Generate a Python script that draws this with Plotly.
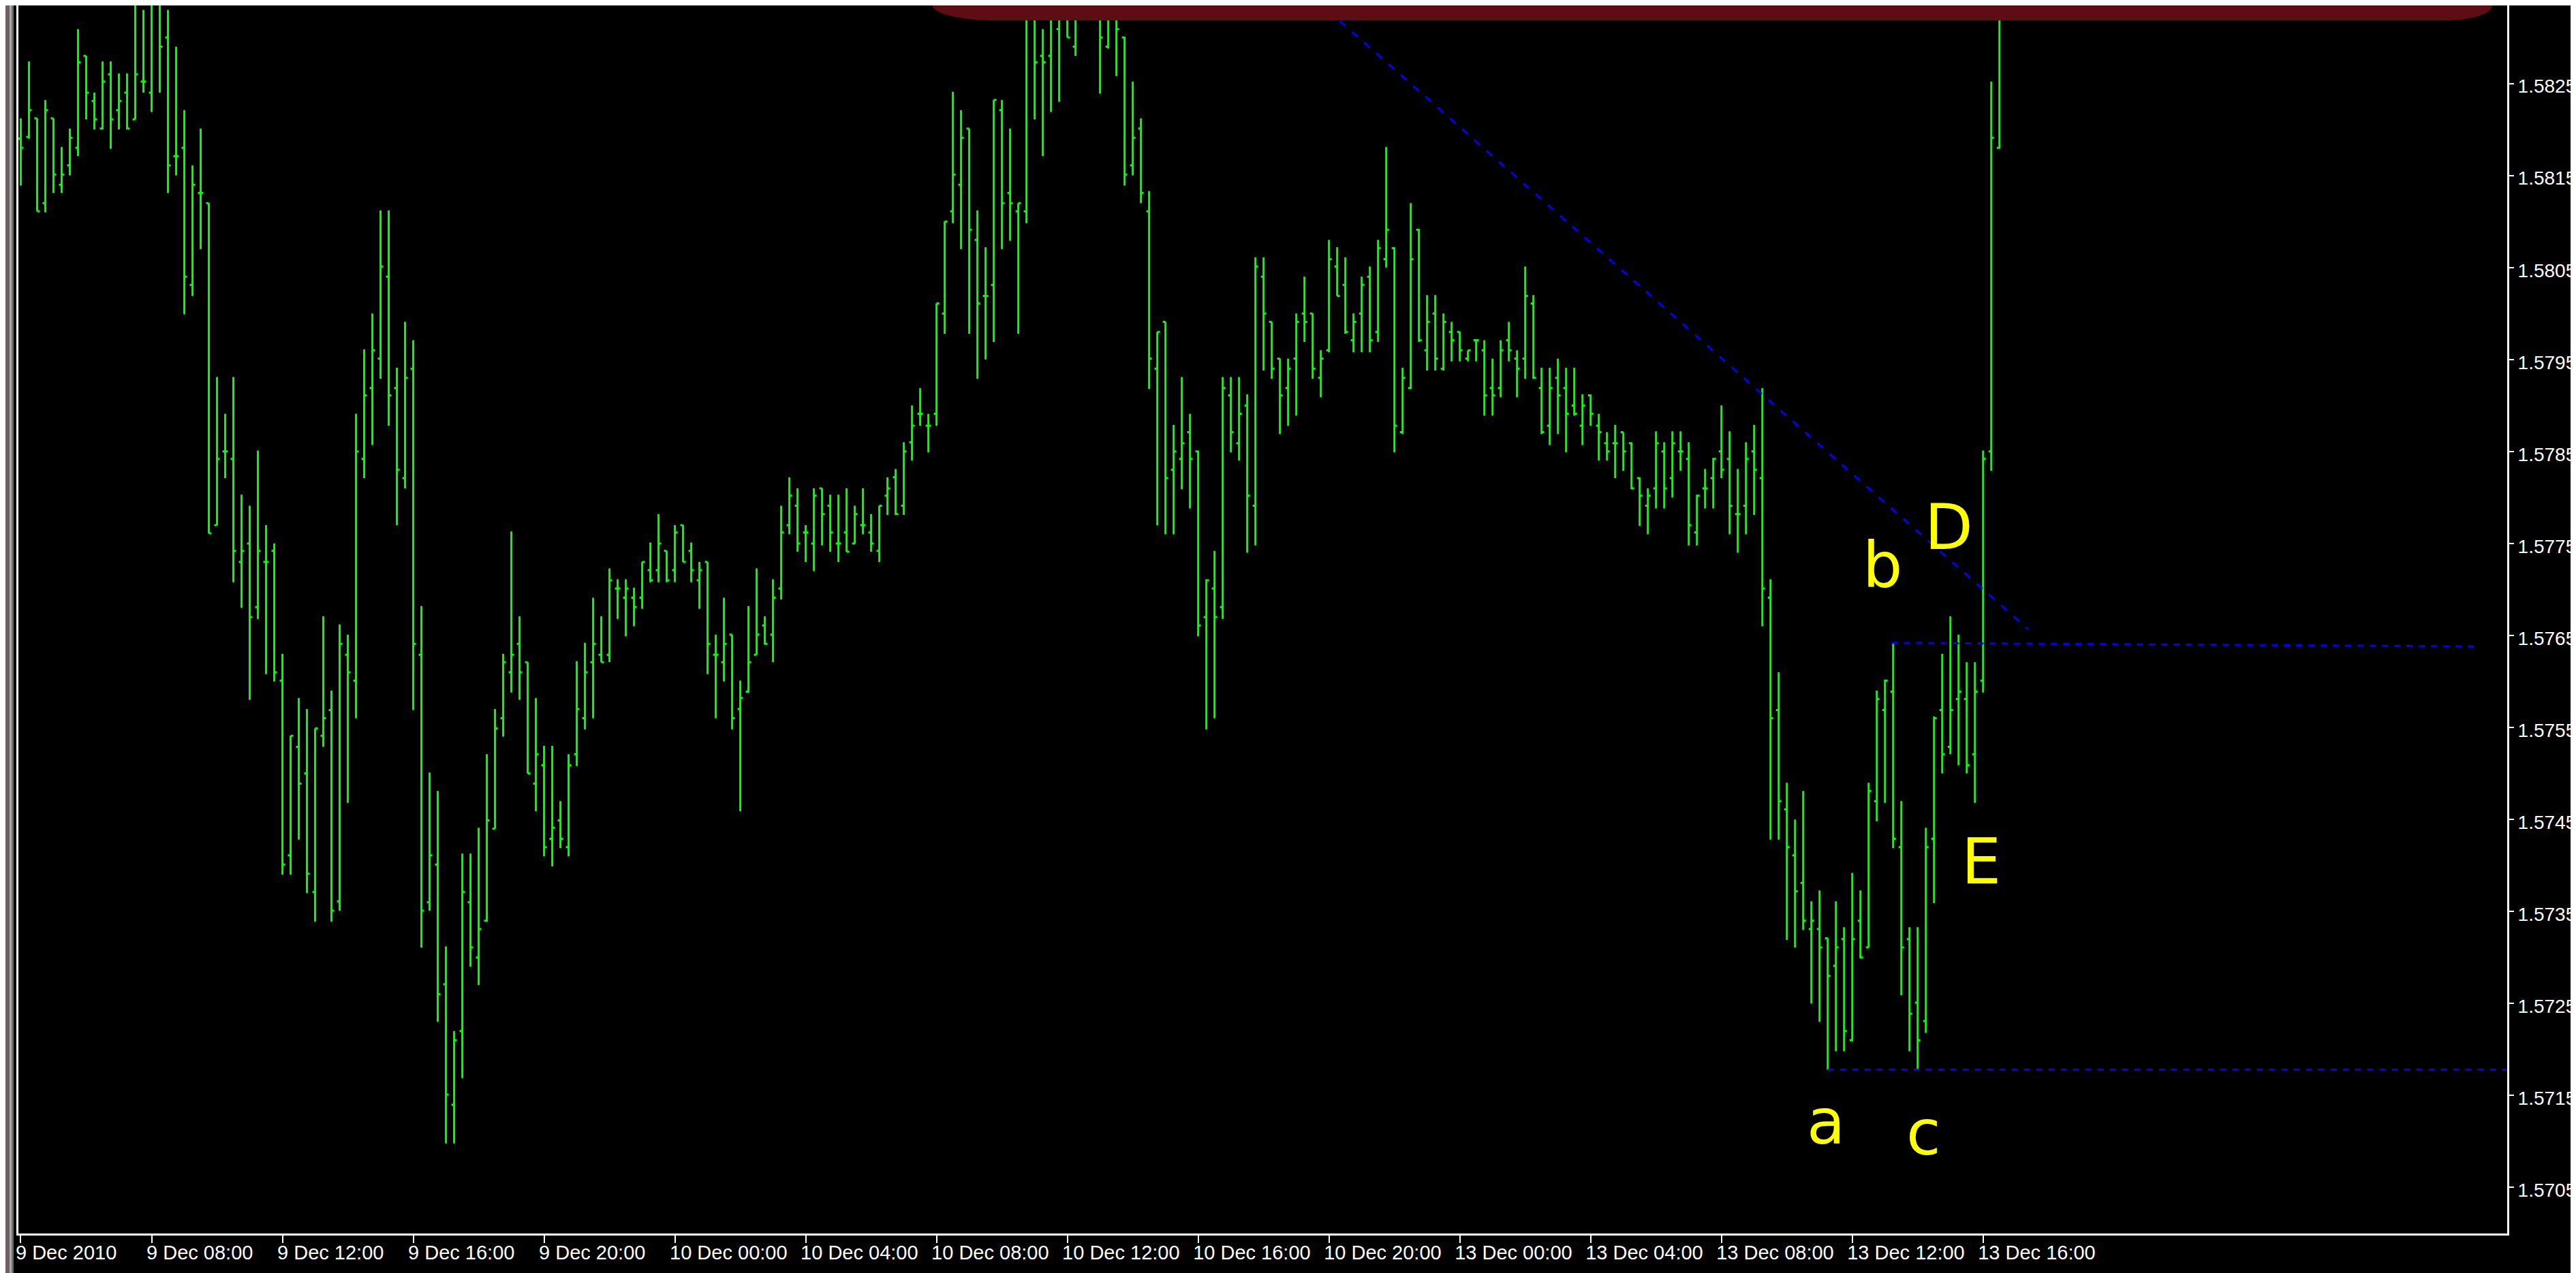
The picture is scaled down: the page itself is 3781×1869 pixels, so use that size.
import plotly.graph_objects as go

# ---------------- data (GBP/USD M15) ----------------
open_ = [
    1.58190, 1.58192, 1.58212, 1.58120, 1.58212, 1.58140, 1.58161, 1.58180, 1.58280, 1.58231,
    1.58201, 1.58260, 1.58221, 1.58240, 1.58211, 1.58252, 1.58240, 1.58340, 1.58300, 1.58171,
    1.58180, 1.58031, 1.58131, 1.58120, 1.57770, 1.57850, 1.57842, 1.57730, 1.57750, 1.57681,
    1.57730, 1.57742, 1.57601, 1.57411, 1.57529, 1.57500, 1.57371, 1.57541, 1.57569, 1.57361,
    1.57629, 1.57601, 1.57842, 1.57919, 1.57951, 1.58040, 1.57919, 1.57821, 1.57940, 1.57629,
    1.57360, 1.57401, 1.57271, 1.57140, 1.57220, 1.57360, 1.57300, 1.57340, 1.57440, 1.57560,
    1.57610, 1.57641, 1.57621, 1.57489, 1.57509, 1.57429, 1.57449, 1.57420, 1.57521, 1.57560,
    1.57621, 1.57629, 1.57629, 1.57701, 1.57691, 1.57691, 1.57691, 1.57721, 1.57721, 1.57742,
    1.57721, 1.57770, 1.57742, 1.57710, 1.57730, 1.57629, 1.57621, 1.57651, 1.57570, 1.57589,
    1.57629, 1.57661, 1.57651, 1.57701, 1.57770, 1.57791, 1.57762, 1.57750, 1.57810, 1.57791,
    1.57750, 1.57762, 1.57750, 1.57770, 1.57762, 1.57742, 1.57802, 1.57822, 1.57791, 1.57860,
    1.57891, 1.57878, 1.57891, 1.58000, 1.58111, 1.58140, 1.58201, 1.58080, 1.58019, 1.58031,
    1.58221, 1.58131, 1.58111, 1.58111, 1.58340, 1.58280, 1.58280, 1.58309, 1.58345, 1.58290,
    1.58350, 1.58370, 1.58350, 1.58290, 1.58345, 1.58300, 1.58161, 1.58201, 1.58111, 1.57940,
    1.57991, 1.57830, 1.57842, 1.57871, 1.57850, 1.57670, 1.57701, 1.57681, 1.57911, 1.57859,
    1.57900, 1.57791, 1.58040, 1.57991, 1.57951, 1.57919, 1.57951, 1.58000, 1.58000, 1.57930,
    1.57960, 1.58051, 1.58031, 1.57971, 1.58000, 1.58040, 1.57980, 1.58059, 1.58071, 1.57871,
    1.57919, 1.58091, 1.57960, 1.58000, 1.57940, 1.57980, 1.57980, 1.57951, 1.57971, 1.57960,
    1.57919, 1.57919, 1.57971, 1.57951, 1.57951, 1.58011, 1.57919, 1.57878, 1.57930, 1.57919,
    1.57900, 1.57878, 1.57911, 1.57878, 1.57859, 1.57859, 1.57871, 1.57859, 1.57821, 1.57791,
    1.57810, 1.57850, 1.57821, 1.57850, 1.57842, 1.57762, 1.57810, 1.57821, 1.57850, 1.57842,
    1.57782, 1.57791, 1.57850, 1.57821, 1.57691, 1.57569, 1.57461, 1.57411, 1.57381, 1.57331,
    1.57331, 1.57321, 1.57291, 1.57320, 1.57210, 1.57340, 1.57311, 1.57470, 1.57569, 1.57589,
    1.57420, 1.57320, 1.57251, 1.57231, 1.57429, 1.57569, 1.57529, 1.57581, 1.57581, 1.57521,
    1.57601, 1.57850, 1.58180,
]
high = [
    1.58212, 1.58274, 1.58212, 1.58232, 1.58212, 1.58181, 1.58201, 1.58309, 1.58280, 1.58240,
    1.58274, 1.58274, 1.58261, 1.58261, 1.58342, 1.58330, 1.58345, 1.58345, 1.58330, 1.58290,
    1.58221, 1.58161, 1.58201, 1.58120, 1.57931, 1.57891, 1.57931, 1.57803, 1.57791, 1.57851,
    1.57770, 1.57750, 1.57630, 1.57541, 1.57582, 1.57570, 1.57549, 1.57671, 1.57590, 1.57662,
    1.57651, 1.57891, 1.57961, 1.58000, 1.58112, 1.58112, 1.57941, 1.57991, 1.57971, 1.57682,
    1.57501, 1.57481, 1.57312, 1.57220, 1.57413, 1.57413, 1.57441, 1.57521, 1.57570, 1.57630,
    1.57763, 1.57671, 1.57621, 1.57582, 1.57530, 1.57530, 1.57470, 1.57521, 1.57622, 1.57642,
    1.57691, 1.57671, 1.57723, 1.57711, 1.57711, 1.57702, 1.57730, 1.57751, 1.57782, 1.57742,
    1.57770, 1.57770, 1.57751, 1.57730, 1.57730, 1.57651, 1.57691, 1.57651, 1.57601, 1.57682,
    1.57723, 1.57671, 1.57711, 1.57791, 1.57822, 1.57810, 1.57770, 1.57810, 1.57810, 1.57803,
    1.57803, 1.57810, 1.57791, 1.57810, 1.57782, 1.57791, 1.57822, 1.57831, 1.57860, 1.57900,
    1.57919, 1.57891, 1.58011, 1.58100, 1.58241, 1.58221, 1.58201, 1.58112, 1.58072, 1.58232,
    1.58232, 1.58201, 1.58120, 1.58360, 1.58365, 1.58309, 1.58355, 1.58360, 1.58360, 1.58370,
    1.58390, 1.58400, 1.58365, 1.58370, 1.58360, 1.58301, 1.58252, 1.58212, 1.58133, 1.57980,
    1.57991, 1.57879, 1.57931, 1.57891, 1.57851, 1.57711, 1.57742, 1.57931, 1.57931, 1.57931,
    1.57912, 1.58061, 1.58061, 1.57991, 1.57951, 1.57951, 1.58000, 1.58040, 1.58000, 1.57960,
    1.58080, 1.58072, 1.58061, 1.58000, 1.58040, 1.58051, 1.58080, 1.58181, 1.58072, 1.57941,
    1.58120, 1.58092, 1.58020, 1.58020, 1.58000, 1.57991, 1.57980, 1.57960, 1.57971, 1.57971,
    1.57951, 1.57971, 1.57991, 1.57960, 1.58051, 1.58020, 1.57941, 1.57941, 1.57951, 1.57941,
    1.57941, 1.57912, 1.57912, 1.57891, 1.57871, 1.57879, 1.57871, 1.57860, 1.57822, 1.57810,
    1.57872, 1.57860, 1.57872, 1.57872, 1.57860, 1.57803, 1.57831, 1.57843, 1.57900, 1.57872,
    1.57831, 1.57860, 1.57879, 1.57919, 1.57711, 1.57610, 1.57490, 1.57450, 1.57481, 1.57361,
    1.57373, 1.57321, 1.57361, 1.57333, 1.57392, 1.57373, 1.57490, 1.57590, 1.57602, 1.57642,
    1.57470, 1.57333, 1.57333, 1.57441, 1.57562, 1.57630, 1.57671, 1.57651, 1.57621, 1.57621,
    1.57851, 1.58252, 1.58400,
]
low = [
    1.58139, 1.58190, 1.58111, 1.58110, 1.58131, 1.58131, 1.58150, 1.58171, 1.58211, 1.58200,
    1.58200, 1.58179, 1.58200, 1.58200, 1.58211, 1.58240, 1.58219, 1.58240, 1.58131, 1.58150,
    1.57999, 1.58019, 1.58070, 1.57761, 1.57770, 1.57821, 1.57708, 1.57680, 1.57580, 1.57668,
    1.57608, 1.57600, 1.57390, 1.57390, 1.57428, 1.57370, 1.57339, 1.57529, 1.57339, 1.57351,
    1.57468, 1.57560, 1.57821, 1.57857, 1.57929, 1.57878, 1.57770, 1.57810, 1.57569, 1.57311,
    1.57351, 1.57230, 1.57098, 1.57098, 1.57169, 1.57290, 1.57270, 1.57339, 1.57440, 1.57540,
    1.57588, 1.57580, 1.57500, 1.57459, 1.57410, 1.57399, 1.57419, 1.57410, 1.57508, 1.57548,
    1.57560, 1.57621, 1.57621, 1.57668, 1.57649, 1.57660, 1.57679, 1.57708, 1.57708, 1.57708,
    1.57708, 1.57730, 1.57708, 1.57679, 1.57608, 1.57560, 1.57600, 1.57548, 1.57459, 1.57588,
    1.57629, 1.57640, 1.57621, 1.57689, 1.57760, 1.57741, 1.57730, 1.57720, 1.57748, 1.57741,
    1.57730, 1.57741, 1.57750, 1.57760, 1.57741, 1.57730, 1.57781, 1.57781, 1.57781, 1.57840,
    1.57878, 1.57849, 1.57878, 1.57978, 1.58098, 1.58070, 1.57978, 1.57929, 1.57950, 1.57969,
    1.58070, 1.58079, 1.57978, 1.58098, 1.58211, 1.58171, 1.58219, 1.58230, 1.58300, 1.58280,
    1.58342, 1.58345, 1.58239, 1.58288, 1.58258, 1.58139, 1.58150, 1.58120, 1.57918, 1.57770,
    1.57760, 1.57760, 1.57809, 1.57788, 1.57649, 1.57548, 1.57560, 1.57668, 1.57849, 1.57840,
    1.57740, 1.57748, 1.57938, 1.57929, 1.57869, 1.57878, 1.57889, 1.57969, 1.57929, 1.57909,
    1.57958, 1.58019, 1.57978, 1.57958, 1.57958, 1.57958, 1.57969, 1.58050, 1.57849, 1.57869,
    1.57918, 1.57969, 1.57938, 1.57938, 1.57938, 1.57948, 1.57948, 1.57948, 1.57948, 1.57889,
    1.57889, 1.57909, 1.57948, 1.57909, 1.57929, 1.57929, 1.57869, 1.57857, 1.57869, 1.57849,
    1.57889, 1.57857, 1.57878, 1.57840, 1.57840, 1.57821, 1.57829, 1.57809, 1.57769, 1.57760,
    1.57788, 1.57788, 1.57800, 1.57829, 1.57748, 1.57748, 1.57788, 1.57788, 1.57821, 1.57760,
    1.57740, 1.57760, 1.57781, 1.57660, 1.57428, 1.57428, 1.57319, 1.57311, 1.57330, 1.57250,
    1.57230, 1.57178, 1.57198, 1.57198, 1.57209, 1.57299, 1.57311, 1.57448, 1.57468, 1.57419,
    1.57259, 1.57198, 1.57178, 1.57218, 1.57359, 1.57500, 1.57521, 1.57509, 1.57500, 1.57468,
    1.57588, 1.57829, 1.58179,
]
close = [
    1.58180, 1.58221, 1.58111, 1.58221, 1.58151, 1.58151, 1.58191, 1.58273, 1.58240, 1.58211,
    1.58252, 1.58211, 1.58231, 1.58201, 1.58260, 1.58252, 1.58340, 1.58290, 1.58161, 1.58171,
    1.58040, 1.58140, 1.58131, 1.57761, 1.57842, 1.57850, 1.57742, 1.57742, 1.57670, 1.57742,
    1.57730, 1.57610, 1.57401, 1.57541, 1.57489, 1.57391, 1.57549, 1.57560, 1.57351, 1.57641,
    1.57610, 1.57850, 1.57911, 1.57960, 1.58051, 1.57911, 1.57830, 1.57930, 1.57641, 1.57351,
    1.57411, 1.57260, 1.57151, 1.57210, 1.57371, 1.57311, 1.57331, 1.57449, 1.57549, 1.57621,
    1.57629, 1.57610, 1.57500, 1.57521, 1.57420, 1.57441, 1.57429, 1.57509, 1.57570, 1.57610,
    1.57641, 1.57621, 1.57710, 1.57701, 1.57701, 1.57681, 1.57730, 1.57710, 1.57750, 1.57710,
    1.57762, 1.57730, 1.57721, 1.57721, 1.57641, 1.57629, 1.57641, 1.57560, 1.57582, 1.57621,
    1.57651, 1.57641, 1.57691, 1.57762, 1.57802, 1.57750, 1.57762, 1.57802, 1.57782, 1.57762,
    1.57750, 1.57741, 1.57782, 1.57770, 1.57750, 1.57791, 1.57810, 1.57782, 1.57850, 1.57878,
    1.57891, 1.57878, 1.58011, 1.58100, 1.58151, 1.58191, 1.58091, 1.58011, 1.58019, 1.58232,
    1.58120, 1.58120, 1.58120, 1.58340, 1.58273, 1.58273, 1.58320, 1.58340, 1.58300, 1.58345,
    1.58370, 1.58355, 1.58300, 1.58350, 1.58309, 1.58151, 1.58191, 1.58131, 1.57951, 1.57980,
    1.57821, 1.57850, 1.57859, 1.57842, 1.57661, 1.57710, 1.57670, 1.57919, 1.57871, 1.57891,
    1.57802, 1.58051, 1.58000, 1.57940, 1.57911, 1.57940, 1.57991, 1.57991, 1.57940, 1.57951,
    1.58059, 1.58019, 1.57980, 1.57991, 1.58031, 1.57971, 1.58071, 1.58091, 1.57878, 1.57930,
    1.58059, 1.57971, 1.57991, 1.57951, 1.57991, 1.57971, 1.57960, 1.57960, 1.57971, 1.57911,
    1.57911, 1.57960, 1.57960, 1.57940, 1.58019, 1.57930, 1.57871, 1.57919, 1.57911, 1.57891,
    1.57891, 1.57900, 1.57891, 1.57871, 1.57850, 1.57859, 1.57850, 1.57810, 1.57802, 1.57802,
    1.57859, 1.57810, 1.57859, 1.57850, 1.57770, 1.57802, 1.57810, 1.57842, 1.57830, 1.57791,
    1.57782, 1.57842, 1.57830, 1.57701, 1.57560, 1.57470, 1.57420, 1.57372, 1.57340, 1.57340,
    1.57311, 1.57280, 1.57311, 1.57220, 1.57320, 1.57300, 1.57481, 1.57581, 1.57601, 1.57429,
    1.57311, 1.57239, 1.57210, 1.57420, 1.57560, 1.57521, 1.57569, 1.57589, 1.57509, 1.57589,
    1.57842, 1.58191, 1.58370,
]
bar_index = list(range(len(open_)))  # one slot per 15-minute bar (weekend skipped)

# time-axis labels (every 16 bars = 4 hours)
x_tick_pos = [0, 16, 32, 48, 64, 80, 96, 112, 128, 144, 160, 176, 192, 208, 224, 240]
x_tick_text = ["9 Dec 2010", "9 Dec 08:00", "9 Dec 12:00", "9 Dec 16:00", "9 Dec 20:00",
               "10 Dec 00:00", "10 Dec 04:00", "10 Dec 08:00", "10 Dec 12:00", "10 Dec 16:00",
               "10 Dec 20:00", "13 Dec 00:00", "13 Dec 04:00", "13 Dec 08:00", "13 Dec 12:00",
               "13 Dec 16:00"]
# price-axis labels
y_tick_vals = [1.5705, 1.5715, 1.5725, 1.5735, 1.5745, 1.5755, 1.5765,
               1.5775, 1.5785, 1.5795, 1.5805, 1.5815, 1.5825]
y_tick_text = ["1.5705", "1.5715", "1.5725", "1.5735", "1.5745", "1.5755", "1.5765",
               "1.5775", "1.5785", "1.5795", "1.5805", "1.5815", "1.5825"]

# drawn objects (bar index, price)
trend_x = [161.3, 245.5]
trend_y = [1.58318, 1.57657]
b_level_x = [228.8, 300.5]
b_level_y = [1.57642, 1.57638]
a_c_level_x = [221.0, 305.0]
a_c_level_y = [1.57178, 1.57178]

label_text = ["a", "b", "c", "D", "E"]
label_x = [220.8, 227.7, 232.7, 235.8, 239.8]
label_y = [1.57121, 1.57726, 1.57109, 1.57767, 1.57404]

# ---------------- figure ----------------
W, H = 3781, 1869
ML, MR, MT, MB = 19, 109, 0, 66
PW, PH = W - ML - MR, H - MT - MB

AXFONT = "Liberation Sans, Arial, sans-serif"
LBLFONT = "DejaVu Sans, sans-serif"
LIME = "#00FF00"
BLUE = "#0000FF"

fig = go.Figure()
fig.add_trace(go.Ohlc(
    x=bar_index, open=open_, high=high, low=low, close=close,
    increasing=dict(line=dict(color=LIME, width=3)),
    decreasing=dict(line=dict(color=LIME, width=3)),
    tickwidth=0.33, hoverinfo="skip", showlegend=False,
))
for xs, ys, dash in [(trend_x, trend_y, "11px,13px"),
                     (b_level_x, b_level_y, "9px,9px"),
                     (a_c_level_x, a_c_level_y, "9px,9px")]:
    fig.add_trace(go.Scatter(x=xs, y=ys, mode="lines", showlegend=False, hoverinfo="skip",
                             line=dict(color=BLUE, width=3, dash=dash)))

for t, lx, ly in zip(label_text, label_x, label_y):
    fig.add_annotation(x=lx, y=ly, xref="x", yref="y", text=t, showarrow=False,
                       font=dict(family=LBLFONT, size=92, color="#FFFF00"),
                       xanchor="center", yanchor="middle")

def xp(px):
    return (px - ML) / PW

def yp(py):
    return 1 - (py - MT) / PH

# dark red rounded panel at the top
path = (f"M {xp(1361)},{yp(-20)} L {xp(1361)},{yp(0)} "
        f"C {xp(1361)},{yp(12)} {xp(1403)},{yp(22)} {xp(1453)},{yp(22)} "
        f"L {xp(3581)},{yp(22)} "
        f"C {xp(3620)},{yp(22)} {xp(3650)},{yp(12)} {xp(3650)},{yp(0)} "
        f"L {xp(3650)},{yp(-20)} Z")
shapes = [dict(type="path", xref="paper", yref="paper", path=path,
               fillcolor="#5E0E12", line=dict(width=0), layer="above")]
# window frame strip at the left edge
for x0, x1, col in [(0, 6, "#6E6060"), (6, 9, "#AAAAAA"), (9, 12, "#6E6E6E")]:
    shapes.append(dict(type="rect", xref="paper", yref="paper",
                       x0=xp(x0), x1=xp(x1), y0=yp(H), y1=yp(0),
                       fillcolor=col, line=dict(width=0), layer="above"))
fig.update_layout(shapes=shapes)

fig.update_layout(
    width=W, height=H,
    margin=dict(l=ML, r=MR, t=MT, b=MB, pad=0),
    paper_bgcolor="#000000", plot_bgcolor="#000000",
    showlegend=False,
    xaxis=dict(range=[-0.29, 304.1], rangeslider=dict(visible=False),
               showgrid=False, zeroline=False, showline=True, linecolor="#FFFFFF", linewidth=3,
               ticks="outside", ticklen=11, tickwidth=2, tickcolor="#FFFFFF",
               tickmode="array", tickvals=x_tick_pos, ticktext=x_tick_text,
               ticklabelposition="outside right", tickangle=0, ticklabelshift=-10,
               tickfont=dict(family=AXFONT, size=29, color="#FFFFFF"),
               automargin=False, fixedrange=True),
    yaxis=dict(range=[1.5700, 1.583348], side="right",
               showgrid=False, zeroline=False, showline=True, mirror=True,
               linecolor="#FFFFFF", linewidth=3,
               ticks="outside", ticklen=7, tickwidth=2, tickcolor="#FFFFFF",
               tickmode="array", tickvals=y_tick_vals, ticktext=y_tick_text,
               ticklabelshift=4,
               tickfont=dict(family=AXFONT, size=28, color="#FFFFFF"),
               automargin=False, fixedrange=True),
)

fig.write_html("out.html")
